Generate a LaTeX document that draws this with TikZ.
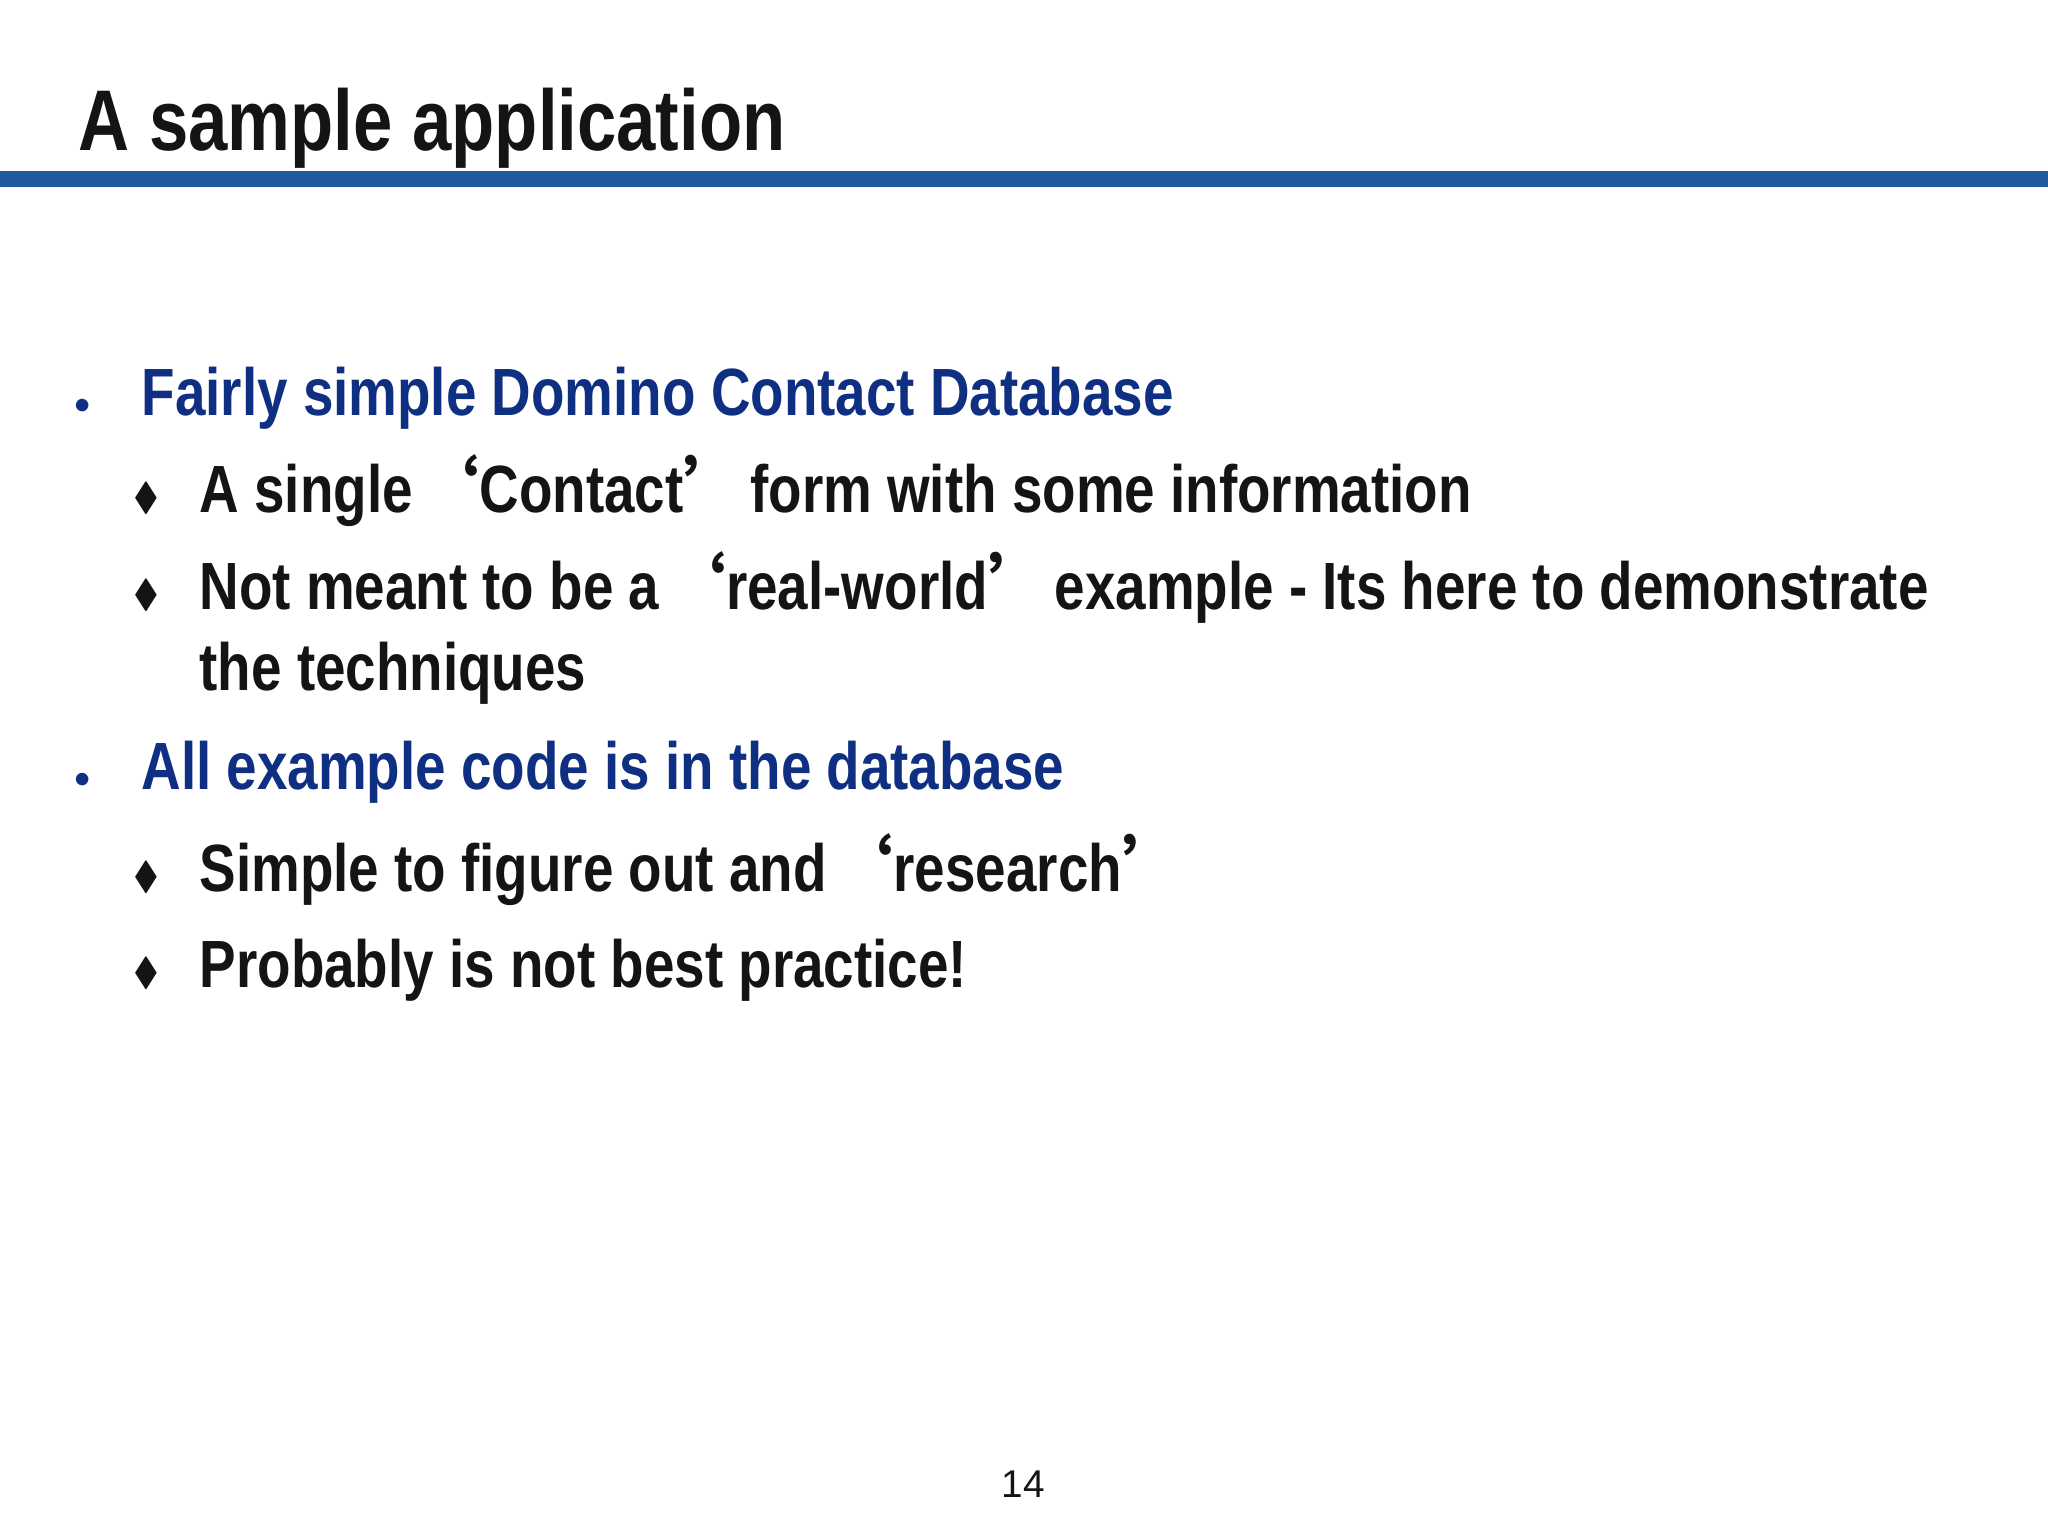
\documentclass[tikz,border=0pt]{standalone}
\usepackage{amssymb}
\usepackage{fontspec}
\setmainfont[FakeStretch=0.82]{Liberation Sans}
\newfontfamily\cjk{Noto Sans CJK SC}
\newfontfamily\gill{Liberation Sans}
\definecolor{barblue}{HTML}{1F5AA0}
\definecolor{headblue}{HTML}{0F2F82}
\definecolor{ink}{HTML}{141414}
\newcommand{\myLQ}{{\cjk ‘}}
\newcommand{\myRQ}{{\cjk ’}}
\tikzset{
  ttl/.style={anchor=base west,inner sep=0pt,font=\fontsize{24.5}{29}\selectfont\bfseries,text=ink},
  lvla/.style={anchor=base west,inner sep=0pt,font=\fontsize{19}{23}\selectfont\bfseries,text=headblue},
  lvlb/.style={anchor=base west,inner sep=0pt,font=\fontsize{19}{23}\selectfont\bfseries,text=ink},
  dotb/.style={anchor=base,inner sep=0pt,font=\fontsize{9}{10}\selectfont,text=headblue},
  diab/.style={anchor=base,inner sep=0pt,font=\fontsize{11}{12}\selectfont,text=ink}
}
\begin{document}
\begin{tikzpicture}[x=0.01cm,y=-0.01cm]
\useasboundingbox[fill=white] (0,0) rectangle (2048,1536);
\fill[barblue] (0,171) rectangle (2048,187);
\node[ttl] (title) at (78,150) {A sample application};
\node[dotb] (d1) at (83,413) {$\bullet$};
\node[lvla] (t1) at (141,415) {Fairly simple Domino Contact Database};
\node[diab] (s1) at (146,509) {$\blacklozenge$};
\node[lvlb] (t2) at (199,512) {A single\myLQ Contact\myRQ form with some information};
\node[diab] (s2) at (146,606) {$\blacklozenge$};
\node[lvlb] (t3) at (199,609) {Not meant to be a\myLQ real-world\myRQ example - Its here to demonstrate};
\node[lvlb] (t3b) at (199,690) {the techniques};
\node[dotb] (d2) at (83,787) {$\bullet$};
\node[lvla] (t4) at (141,789) {All example code is in the database};
\node[diab] (s3) at (146,888) {$\blacklozenge$};
\node[lvlb] (t5) at (199,891) {Simple to figure out and\myLQ research\myRQ};
\node[diab] (s4) at (146,984) {$\blacklozenge$};
\node[lvlb] (t6) at (199,987) {Probably is not best practice!};
\node[anchor=base,inner sep=0pt,font=\fontsize{11}{13}\selectfont\gill,text=ink] (pg) at (1023,1497) {14};
\end{tikzpicture}
\end{document}
